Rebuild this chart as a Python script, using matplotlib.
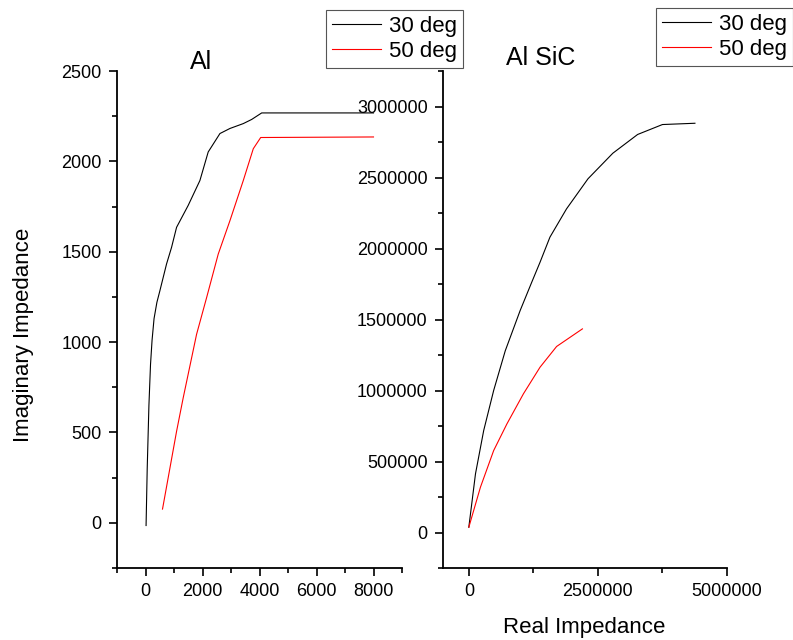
import matplotlib
matplotlib.use('Agg')
import matplotlib.pyplot as plt
from matplotlib.ticker import MultipleLocator, FixedLocator, FuncFormatter

plt.rcParams['font.family'] = ['Liberation Sans', 'DejaVu Sans']

# Al sample (real, imaginary impedance)
al_30_x = [20, 60, 120, 176, 230, 300, 400, 503, 738, 914, 1090, 1497, 1909, 2200, 2612, 2963, 3431, 3726, 4077, 8000]
al_30_y = [-15, 300, 650, 876, 1010, 1130, 1220, 1283, 1432, 1524, 1635, 1756, 1894, 2052, 2154, 2182, 2209, 2232, 2268, 2268]
al_50_x = [597, 1090, 1322, 1792, 2144, 2552, 2963, 3431, 3782, 4042, 8000]
al_50_y = [76, 506, 691, 1043, 1246, 1487, 1672, 1894, 2070, 2132, 2135]

# Al SiC sample
sic_30_x = [0, 129e3, 288e3, 481e3, 706e3, 994e3, 1.219e6, 1.379e6, 1.571e6, 1.892e6, 2.308e6, 2.789e6, 3.269e6, 3.750e6, 4.379e6]
sic_30_y = [37e3, 413e3, 718e3, 1.0e6, 1.28e6, 1.563e6, 1.763e6, 1.903e6, 2.080e6, 2.279e6, 2.491e6, 2.671e6, 2.803e6, 2.873e6, 2.882e6]
sic_50_x = [0, 225e3, 481e3, 738e3, 1.058e6, 1.379e6, 1.700e6, 2.2e6]
sic_50_y = [37e3, 319e3, 577e3, 765e3, 977e3, 1.164e6, 1.310e6, 1.434e6]

labels = ['30 deg', '50 deg']
W, H = 793, 640

fig = plt.figure(figsize=(W / 100, H / 100), dpi=100)
ax1 = fig.add_axes([117 / W, 72 / H, (402 - 117) / W, (568 - 71) / H])
ax2 = fig.add_axes([443 / W, 72 / H, (727 - 443) / W, (568 - 71) / H])

intfmt = FuncFormatter(lambda v, p: '%d' % round(v))

for ax in (ax1, ax2):
	for s in ('top', 'right'):
		ax.spines[s].set_visible(False)
	for s in ('left', 'bottom'):
		ax.spines[s].set_linewidth(1.3)
	ax.tick_params(which='major', direction='out', length=6, width=1.2, labelsize=13, pad=5)
	ax.tick_params(which='minor', direction='out', length=3.5, width=1.2)
	ax.xaxis.set_major_formatter(intfmt)
	ax.yaxis.set_major_formatter(intfmt)

l1, = ax1.plot(al_30_x, al_30_y, color='black', lw=0.8)
l2, = ax1.plot(al_50_x, al_50_y, color='red', lw=0.8)
ax1.set_xlim(-1000, 9000)
ax1.set_ylim(-250, 2500)
ax1.xaxis.set_major_locator(FixedLocator([0, 2000, 4000, 6000, 8000]))
ax1.xaxis.set_minor_locator(MultipleLocator(1000))
ax1.yaxis.set_major_locator(MultipleLocator(500))
ax1.yaxis.set_minor_locator(MultipleLocator(250))

m1, = ax2.plot(sic_30_x, sic_30_y, color='black', lw=0.8)
m2, = ax2.plot(sic_50_x, sic_50_y, color='red', lw=0.8)
ax2.set_xlim(-500000, 5000000)
ax2.set_ylim(-250000, 3250000)
ax2.xaxis.set_major_locator(FixedLocator([0, 2500000, 5000000]))
ax2.xaxis.set_minor_locator(FixedLocator([1250000, 3750000]))
ax2.yaxis.set_major_locator(MultipleLocator(500000))
ax2.yaxis.set_minor_locator(MultipleLocator(250000))

for ax, lines, x1, y1 in ((ax1, [l1, l2], 463, 10), (ax2, [m1, m2], 793, 8)):
	leg = ax.legend(lines, labels, loc='upper right', bbox_to_anchor=(x1 / W, 1 - y1 / H),
		bbox_transform=fig.transFigure, borderaxespad=0, fontsize=16, frameon=True,
		fancybox=False, framealpha=1, edgecolor='#555555', handlelength=2.2,
		handletextpad=0.4, labelspacing=0.2, borderpad=0.25)
	leg.get_frame().set_linewidth(0.8)

fig.text(201 / W, 1 - 62 / H, 'Al', fontsize=18, ha='center', va='center')
fig.text(541 / W, 1 - 58 / H, 'Al SiC', fontsize=18, ha='center', va='center')
fig.text(24 / W, 1 - 335 / H, 'Imaginary Impedance', fontsize=16, rotation=90, ha='center', va='center')
fig.text(584 / W, 1 - 627 / H, 'Real Impedance', fontsize=16, ha='center', va='center')

fig.savefig('out.png', dpi=100)
